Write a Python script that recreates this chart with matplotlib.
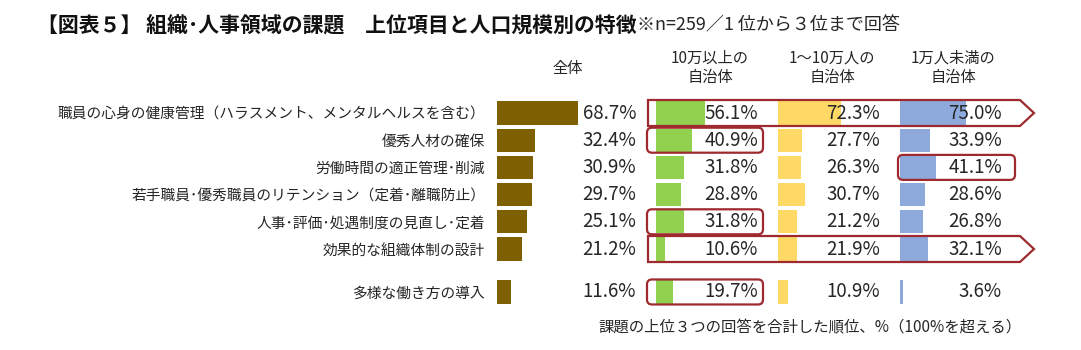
import matplotlib
matplotlib.use("Agg")
import matplotlib.pyplot as plt
from matplotlib.patches import FancyBboxPatch, Polygon
import matplotlib.transforms as mtransforms

plt.rcParams['font.family'] = ['Noto Sans CJK JP', 'DejaVu Sans']

# ---------------- data ----------------
categories = [
    "職員の心身の健康管理（ハラスメント、メンタルヘルスを含む）",
    "優秀人材の確保",
    "労働時間の適正管理･削減",
    "若手職員･優秀職員のリテンション（定着･離職防止）",
    "人事･評価･処遇制度の見直し･定着",
    "効果的な組織体制の設計",
    "多様な働き方の導入",
]
row_pos = [0, 1, 2, 3, 4, 5, 6.58]
overall = [68.7, 32.4, 30.9, 29.7, 25.1, 21.2, 11.6]
large = [56.1, 40.9, 31.8, 28.8, 31.8, 10.6, 19.7]
middle = [72.3, 27.7, 26.3, 30.7, 21.2, 21.9, 10.9]
small = [75.0, 33.9, 41.1, 28.6, 26.8, 32.1, 3.6]
headers = ["全体", "10万以上の\n自治体", "1～10万人の\n自治体", "1万人未満の\n自治体"]

title_main = "【図表５】 組織･人事領域の課題　上位項目と人口規模別の特徴"
title_note = "※n=259／1 位から３位まで回答"
footnote = "課題の上位３つの回答を合計した順位、%（100%を超える）"

# highlighted cells: (row index, group index 0=large..2=small)
highlights_box = [(1, 0), (4, 0), (6, 0), (2, 2)]
highlights_arrow = [0, 5]

colors = ["#7F6000", "#92D050", "#FFD966", "#8EA9DB"]
red = "#9E2A2F"
txt = "#262626"

W, H = 1081, 350
fig = plt.figure(figsize=(W / 100, H / 100), dpi=100)
fig.patch.set_facecolor("white")

row_px = 27.2
top_px = 99.4
ylim = (row_pos[-1] + 0.5, -0.5)
ax_h = (ylim[0] - ylim[1]) * row_px


def add_ax(x0, w):
    return fig.add_axes([x0 / W, 1 - (top_px + ax_h) / H, w / W, ax_h / H])


def style(ax):
    ax.set_ylim(*ylim)
    for s in ax.spines.values():
        s.set_visible(False)
    ax.set_xticks([])
    ax.tick_params(left=False)
    ax.set_facecolor("none")


bar_h = 0.85
val_fs = 13.5

# overall axes
ax0 = add_ax(497, 143)
ax0.set_xlim(0, 143 / 1.18)
ax0.barh(row_pos, overall, height=bar_h, color=colors[0])
style(ax0)
ax0.set_yticks(row_pos)
ax0.set_yticklabels(categories, fontsize=10.6, color=txt)
ax0.tick_params(axis='y', pad=5)
tr = mtransforms.blended_transform_factory(ax0.transAxes, ax0.transData)
for y, v in zip(row_pos, overall):
    ax0.text(139 / 143, y, f"{v:.1f}%", transform=tr, ha="right", va="center",
             fontsize=val_fs, color=txt)

group_x = [656, 778, 900]
group_vals = [large, middle, small]
for gx, vals, c in zip(group_x, group_vals, colors[1:]):
    ax = add_ax(gx, 104)
    ax.set_xlim(0, 104 / 0.875)
    ax.barh(row_pos, vals, height=bar_h, color=c)
    style(ax)
    ax.set_yticks([])
    trg = mtransforms.blended_transform_factory(ax.transAxes, ax.transData)
    for y, v in zip(row_pos, vals):
        ax.text(102 / 104, y, f"{v:.1f}%", transform=trg, ha="right", va="center",
                fontsize=val_fs, color=txt)

# headers
hdr_x = [568, 710, 832, 953]
for hx, h in zip(hdr_x, headers):
    fig.text(hx / W, 1 - 68 / H, h, ha="center", va="center", fontsize=11,
             color=txt, linespacing=1.2)

# title
t = fig.text(37 / W, 1 - 25 / H, title_main, ha="left", va="center",
             fontsize=15, fontweight="bold", color="#111111")
fig.canvas.draw()
bb = t.get_window_extent()
fig.text(bb.x1 / W, 1 - 25 / H, title_note, ha="left", va="center",
         fontsize=13, color=txt)

fig.text(598 / W, 1 - 328 / H, footnote, ha="left", va="center",
         fontsize=11.1, color=txt)

# overlay for highlight shapes (pixel coords)
ov = fig.add_axes([0, 0, 1, 1])
ov.set_xlim(0, W)
ov.set_ylim(H, 0)
ov.axis("off")
ov.set_facecolor("none")


def row_center(i):
    return top_px + (row_pos[i] - ylim[1]) * row_px


box_spans = [(647, 763), (770, 885), (898, 1015)]
for r, g in highlights_box:
    cy = row_center(r)
    x0, x1 = box_spans[g]
    p = FancyBboxPatch((x0, cy - 12.5), x1 - x0, 25,
                       boxstyle="round,pad=0,rounding_size=5",
                       fill=False, ec=red, lw=1.6)
    ov.add_patch(p)

for r in highlights_arrow:
    cy = row_center(r)
    pts = [(648, cy - 13), (1020, cy - 13), (1034, cy), (1020, cy + 13), (648, cy + 13)]
    ov.add_patch(Polygon(pts, closed=True, fill=False, ec=red, lw=1.6, joinstyle="miter"))

fig.savefig("out.png", dpi=100, facecolor="white")
